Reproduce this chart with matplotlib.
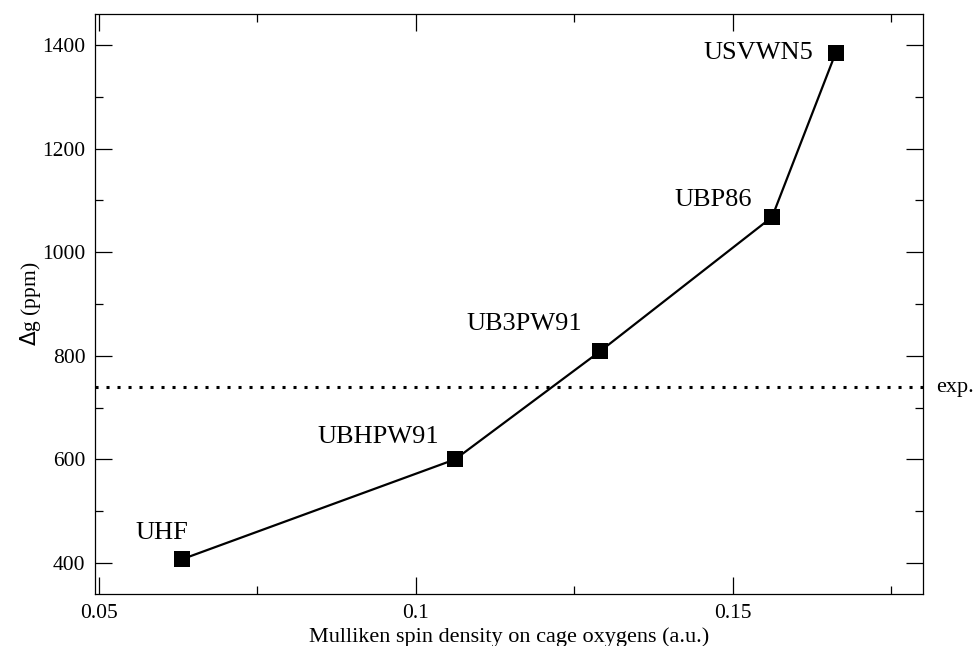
import matplotlib
matplotlib.use("Agg")
import matplotlib.pyplot as plt
from matplotlib.ticker import MultipleLocator

# spin density on cage oxygens vs. g-shift for each functional
methods = ["UHF", "UBHPW91", "UB3PW91", "UBP86", "USVWN5"]
spin_density = [0.0631, 0.1062, 0.1291, 0.1562, 0.1662]
delta_g = [407, 600, 809, 1068, 1384]
exp_delta_g = 740

# label offsets (pixels) from each marker
label_offsets = [(-20, 26), (-77, 22), (-76, 27), (-59, 17), (-77, 0)]

plt.rcParams["font.family"] = ["Liberation Serif", "DejaVu Serif"]
plt.rcParams["mathtext.fontset"] = "custom"

fig = plt.figure(figsize=(9.78, 6.46), dpi=100)
ax = fig.add_axes([95 / 978, 52 / 646, 828 / 978, 580 / 646])

ax.plot(spin_density, delta_g, color="black", linewidth=1.6,
        marker="s", markersize=11, markeredgewidth=0, zorder=3)

ax.axhline(exp_delta_g, color="black", linewidth=2.2,
           linestyle=(0, (1, 2.6)), zorder=2)
ax.annotate("exp.", xy=(1.0, exp_delta_g), xycoords=("axes fraction", "data"),
            xytext=(13, -1), textcoords="offset pixels",
            fontsize=16, ha="left", va="center", annotation_clip=False)

for name, x, y, (dx, dy) in zip(methods, spin_density, delta_g, label_offsets):
    ax.annotate(name, xy=(x, y), xytext=(dx, dy), textcoords="offset pixels",
                fontsize=19, ha="center", va="center")

ax.set_xlim(0.0494, 0.18)
ax.set_ylim(340, 1460)
ax.xaxis.set_major_locator(MultipleLocator(0.05))
ax.xaxis.set_minor_locator(MultipleLocator(0.025))
ax.yaxis.set_major_locator(MultipleLocator(200))
ax.yaxis.set_minor_locator(MultipleLocator(100))
ax.set_xticks([0.05, 0.1, 0.15])
ax.set_xticklabels(["0.05", "0.1", "0.15"])

ax.tick_params(which="both", direction="in", top=True, right=True,
               width=0.9, labelsize=15.5)
ax.tick_params(which="major", length=12, pad=7)
ax.tick_params(which="minor", length=6)
for s in ax.spines.values():
    s.set_linewidth(0.9)

ax.set_xlabel("Mulliken spin density on cage oxygens (a.u.)", fontsize=16, labelpad=3)
ax.set_ylabel(r"$\Delta$g (ppm)", fontsize=15.5, labelpad=-1)

fig.savefig("out.png", dpi=100)
